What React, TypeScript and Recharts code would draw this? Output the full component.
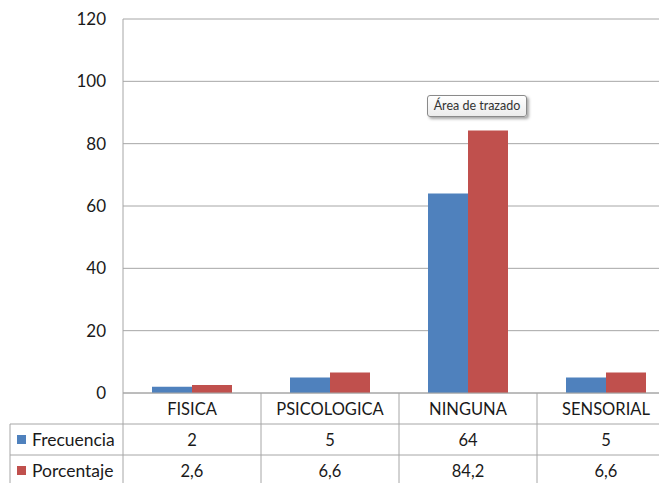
import React from "react";
import { BarChart, Bar, XAxis, YAxis, CartesianGrid } from "recharts";

const categories = ["FISICA", "PSICOLOGICA", "NINGUNA", "SENSORIAL"];
const frecuencia = [2, 5, 64, 5];
const porcentaje = [2.6, 6.6, 84.2, 6.6];
const porcentajeLabels = ["2,6", "6,6", "84,2", "6,6"];
const yTicks = [0, 20, 40, 60, 80, 100, 120];
const seriesNames = ["Frecuencia", "Porcentaje"];

const data = categories.map((c, i) => ({
  name: c,
  frecuencia: frecuencia[i],
  porcentaje: porcentaje[i],
}));

const BLUE = "#4F81BD";
const RED = "#C0504D";
const GRID = "#A6A6A6";
const FONT = "Lato, 'Open Sans', sans-serif";

const CHART_W = 700;
const CHART_H = 490;
const MARGIN = { top: 19, right: 25, left: 0, bottom: 4 };
const Y_W = 123;
const CAT_W = (CHART_W - MARGIN.left - MARGIN.right - Y_W) / categories.length;
const ROW_H = 31;
const TABLE_LEFT = 10;

function TableTick(props: any) {
  const { x, y, payload } = props;
  const i = payload.index;
  const left = x - CAT_W / 2;
  const right = x + CAT_W / 2;
  const rows = [
    payload.value,
    String(frecuencia[i]),
    porcentajeLabels[i],
  ];
  const plotLeft = x - CAT_W / 2 - i * CAT_W;
  const plotRight = plotLeft + CAT_W * categories.length;
  return (
    <g>
      <line x1={right} y1={y} x2={right} y2={y + ROW_H * 3} stroke={GRID} strokeWidth={1} />
      {i === 0 && (
        <g>
          <line x1={left} y1={y} x2={left} y2={y + ROW_H * 3} stroke={GRID} strokeWidth={1} />
          <line x1={TABLE_LEFT} y1={y + ROW_H} x2={TABLE_LEFT} y2={y + ROW_H * 3} stroke={GRID} strokeWidth={1} />
          <line x1={TABLE_LEFT} y1={y + ROW_H} x2={plotRight} y2={y + ROW_H} stroke={GRID} strokeWidth={1} />
          <line x1={TABLE_LEFT} y1={y + ROW_H * 2} x2={plotRight} y2={y + ROW_H * 2} stroke={GRID} strokeWidth={1} />
          {seriesNames.map((s, k) => (
            <g key={s}>
              <rect x={17} y={y + ROW_H * (k + 1) + 11} width={9} height={9} fill={k === 0 ? BLUE : RED} />
              <text
                x={32}
                y={y + ROW_H * (k + 1) + ROW_H / 2}
                dominantBaseline="central"
                fontSize={17.5}
                fontFamily={FONT}
                fill="#1a1a1a"
              >
                {s}
              </text>
            </g>
          ))}
        </g>
      )}
      {rows.map((r, k) => (
        <text
          key={k}
          x={x}
          y={y + ROW_H * k + ROW_H / 2}
          textAnchor="middle"
          dominantBaseline="central"
          fontSize={16.5}
          fontFamily={FONT}
          fill="#1a1a1a"
        >
          {r}
        </text>
      ))}
    </g>
  );
}

export default function App() {
  return (
    <div
      style={{
        position: "absolute",
        left: 0,
        top: 0,
        width: 659,
        height: 483,
        overflow: "hidden",
        background: "#fff",
      }}
    >
      <BarChart
        width={CHART_W}
        height={CHART_H}
        data={data}
        margin={MARGIN}
        barGap={0}
        barSize={40}
      >
        <CartesianGrid vertical={false} stroke={GRID} strokeWidth={1} />
        <XAxis
          dataKey="name"
          height={ROW_H * 3}
          axisLine={{ stroke: GRID }}
          tickLine={false}
          tickSize={0}
          tickMargin={0}
          interval={0}
          tick={(p: any) => <TableTick {...p} />}
        />
        <YAxis
          width={Y_W}
          domain={[0, 120]}
          ticks={yTicks}
          axisLine={{ stroke: GRID }}
          tickLine={false}
          tickSize={0}
          tickMargin={17}
          tick={{ fontSize: 17, fontFamily: FONT, fill: "#1a1a1a" }}
        />
        <Bar dataKey="frecuencia" fill={BLUE} isAnimationActive={false} />
        <Bar dataKey="porcentaje" fill={RED} isAnimationActive={false} />
      </BarChart>
      <div
        style={{
          position: "absolute",
          left: 427,
          top: 95,
          width: 98,
          height: 20,
          border: "1px solid #8a8a8a",
          borderRadius: 3,
          background: "linear-gradient(#ffffff, #ececec)",
          boxShadow: "2px 2px 3px rgba(0,0,0,0.35)",
          fontFamily: FONT,
          fontSize: 12.5,
          color: "#333",
          lineHeight: "20px",
          textAlign: "center",
          whiteSpace: "nowrap",
        }}
      >
        Área de trazado
      </div>
    </div>
  );
}
